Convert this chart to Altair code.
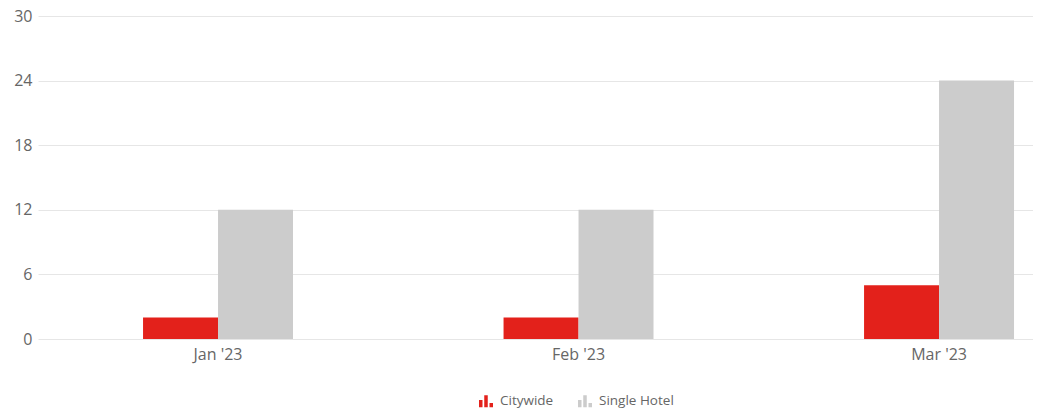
import altair as alt
import pandas as pd

months = ["Jan '23", "Feb '23", "Mar '23"]
series = ["Citywide", "Single Hotel"]
citywide = [2, 2, 5]
single_hotel = [12, 12, 24]
colors = ["#e3211b", "#cccccc"]
y_ticks = [0, 6, 12, 18, 24, 30]

rows = []
for m, c, s in zip(months, citywide, single_hotel):
    rows.append({"month": m, "series": series[0], "value": c})
    rows.append({"month": m, "series": series[1], "value": s})
df = pd.DataFrame(rows)

icon = ("M-1,0.857 L-1,-0.17 L-0.5,-0.17 L-0.5,0.857 Z "
        "M-0.25,0.857 L-0.25,-0.857 L0.25,-0.857 L0.25,0.857 Z "
        "M0.5,0.857 L0.5,0.26 L1,0.26 L1,0.857 Z")

FONT = "Open Sans"

chart = alt.Chart(df).mark_bar().encode(
    x=alt.X("month:N", sort=months, title=None,
            scale=alt.Scale(paddingInner=0.584, paddingOuter=0.172, align=0.847),
            axis=alt.Axis(labelAngle=0, domain=False, ticks=False, grid=False,
                          labelPadding=7, labelFontSize=16, labelColor="#666666",
                          labelFont=FONT)),
    xOffset=alt.XOffset("series:N", sort=series,
                        scale=alt.Scale(paddingInner=0, paddingOuter=0)),
    y=alt.Y("value:Q", scale=alt.Scale(domain=[0, 30], nice=False),
            axis=alt.Axis(values=y_ticks, title=None, domain=False, ticks=False,
                          labelPadding=6, labelFontSize=16, labelColor="#666666",
                          labelFont=FONT, gridColor="#e6e6e6", gridWidth=1)),
    color=alt.Color("series:N", sort=series,
                    scale=alt.Scale(domain=series, range=colors),
                    legend=alt.Legend(orient="none", legendX=441, legendY=378,
                                      direction="horizontal", title=None,
                                      symbolType=icon, symbolSize=196,
                                      symbolStrokeWidth=0, symbolOpacity=1,
                                      labelFontSize=13.5, labelColor="#666666",
                                      labelFont=FONT, columnPadding=24,
                                      labelOffset=7, padding=0)),
).properties(
    width=995, height=323,
    autosize=alt.AutoSizeParams(type="none"),
    padding={"left": 30, "top": 8, "right": 0, "bottom": 71},
).configure_view(stroke=None)

chart.save("out.html", embed_options={"renderer": "svg", "actions": False})
